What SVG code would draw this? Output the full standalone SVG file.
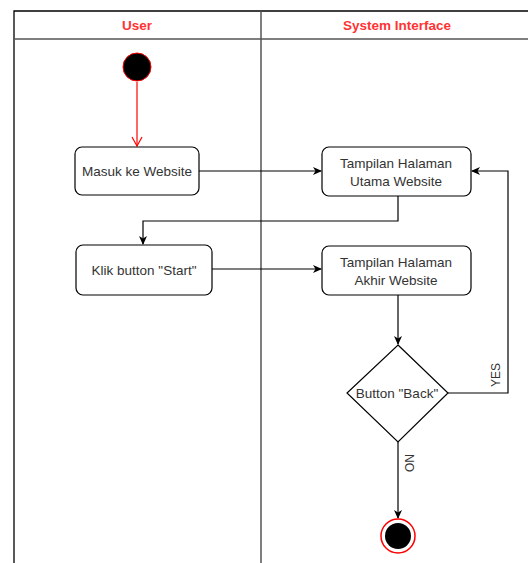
<svg xmlns="http://www.w3.org/2000/svg" width="528" height="563" viewBox="0 0 528 563">
<defs>
<style>
.lane{fill:none;stroke:#000;stroke-width:1.3}
.div{fill:none;stroke:#555;stroke-width:1.5}
.hdr{font-family:"Liberation Sans",Arial,sans-serif;font-size:13.5px;font-weight:bold;fill:#ff3333;text-anchor:middle}
.box{fill:#fff;stroke:#000;stroke-width:1.2}
.t{font-family:"Liberation Sans",Arial,sans-serif;font-size:13.5px;fill:#333;text-anchor:middle}
.c{fill:none;stroke:#000;stroke-width:1.2}
.lbl{font-family:"Liberation Sans",Arial,sans-serif;font-size:12px;fill:#333;text-anchor:middle}
</style>
<marker id="ah" markerWidth="10" markerHeight="10" refX="8" refY="5" orient="auto" markerUnits="userSpaceOnUse">
<path d="M0,1 L9,5 L0,9 L2.5,5 Z" fill="#000"/>
</marker>
<marker id="ahr" markerWidth="12" markerHeight="12" refX="10" refY="6" orient="auto" markerUnits="userSpaceOnUse">
<path d="M1,1 L10,6 L1,11" fill="none" stroke="#ff0000" stroke-width="1.2"/>
</marker>
</defs>
<rect x="0" y="0" width="528" height="563" fill="#fff"/>
<g id="lanes">
<path class="lane" d="M14,563 V11 H528"/>
<path class="div" d="M14,39 H528 M261,11 V563"/>
<text class="hdr" x="137" y="30">User</text>
<text class="hdr" x="397" y="30">System Interface</text>
</g>
<g id="connectors">
<path d="M137,82 V146" fill="none" stroke="#ff0000" stroke-width="1.2" marker-end="url(#ahr)"/>
<path class="c" d="M199,171 H321" marker-end="url(#ah)"/>
<path class="c" d="M398,196 V221 H143 V244" marker-end="url(#ah)"/>
<path class="c" d="M212,269 H321" marker-end="url(#ah)"/>
<path class="c" d="M398,295 V344" marker-end="url(#ah)"/>
<path class="c" d="M448,393 H508 V171 H472" marker-end="url(#ah)"/>
<path class="c" d="M398,442 V518" marker-end="url(#ah)"/>
<text class="lbl" transform="translate(500,375) rotate(-90)">YES</text>
<text class="lbl" transform="translate(405,463) rotate(90)">NO</text>
</g>
<g id="start"><circle cx="137" cy="67" r="14" fill="#000" stroke="#ff0000" stroke-width="1"/></g>
<g id="masuk"><rect class="box" x="75" y="147" width="124" height="48" rx="7"/><text class="t" x="137" y="176">Masuk ke Website</text></g>
<g id="utama"><rect class="box" x="322" y="147" width="149" height="49" rx="7"/><text class="t" x="396" y="168">Tampilan Halaman</text><text class="t" x="396" y="186">Utama Website</text></g>
<g id="klik"><rect class="box" x="76" y="245" width="136" height="50" rx="7"/><text class="t" x="144" y="275">Klik button "Start"</text></g>
<g id="akhir"><rect class="box" x="322" y="246" width="149" height="49" rx="7"/><text class="t" x="396" y="267">Tampilan Halaman</text><text class="t" x="396" y="285">Akhir Website</text></g>
<g id="decision"><path class="box" d="M398,345 L448,393 L398,442 L347,393 Z"/><text class="t" x="397" y="398">Button "Back"</text></g>
<g id="end"><circle cx="398" cy="536" r="17" fill="#fff" stroke="#ff0000" stroke-width="1.5"/><circle cx="398" cy="536" r="13" fill="#000"/></g>
</svg>
